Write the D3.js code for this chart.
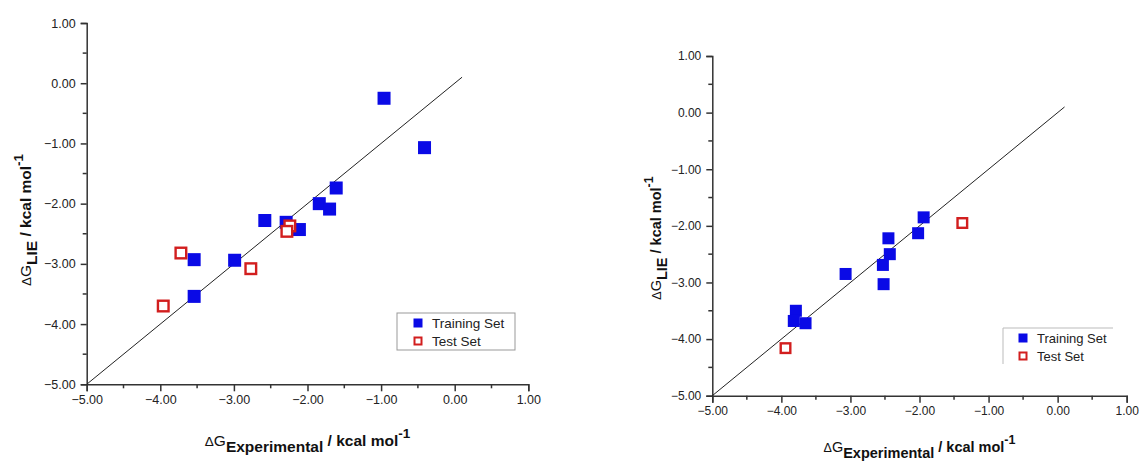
<!DOCTYPE html>
<html>
<head>
<meta charset="utf-8">
<script src="https://cdn.jsdelivr.net/npm/d3@7"></script>
<style>
  body { margin: 0; background: #fff; }
  text { font-family: "Liberation Sans", Arial, sans-serif; }
</style>
</head>
<body>
<svg id="chart" width="1140" height="461"></svg>
<script>
// ticks shared by both panels
var tickValues = [-5, -4, -3, -2, -1, 0, 1];
var minorTicks = [-4.5, -3.5, -2.5, -1.5, -0.5, 0.5];
var lineEnds = [-5, 0.1];

// left panel
var trainA = [
  { x: -0.96, y: -0.25 }, { x: -0.41, y: -1.07 }, { x: -1.61, y: -1.74 },
  { x: -1.84, y: -2.00 }, { x: -1.70, y: -2.09 }, { x: -2.58, y: -2.28 },
  { x: -2.29, y: -2.31 }, { x: -2.11, y: -2.43 }, { x: -3.54, y: -2.93 },
  { x: -2.99, y: -2.94 }, { x: -3.54, y: -3.54 }
];
var testA = [
  { x: -3.72, y: -2.82 }, { x: -2.77, y: -3.08 }, { x: -3.96, y: -3.70 },
  { x: -2.24, y: -2.37 }, { x: -2.28, y: -2.46 }
];

// right panel
var trainB = [
  { x: -1.94, y: -1.85 }, { x: -2.02, y: -2.13 }, { x: -2.45, y: -2.22 },
  { x: -2.43, y: -2.50 }, { x: -2.53, y: -2.69 }, { x: -2.52, y: -3.03 },
  { x: -3.07, y: -2.85 }, { x: -3.79, y: -3.50 }, { x: -3.82, y: -3.68 },
  { x: -3.65, y: -3.72 }
];
var testB = [
  { x: -1.38, y: -1.95 }, { x: -3.94, y: -4.16 }
];

var svg = d3.select("#chart");
var fmt = d3.format(".2f");

function panel(o) {
  var x = d3.scaleLinear().domain([-5, 1]).range([o.x0, o.x1]);
  var y = d3.scaleLinear().domain([-5, 1]).range([o.y0, o.y1]);
  var g = svg.append("g");

  // x axis
  g.append("g").attr("transform", "translate(0," + o.y0 + ")")
    .call(d3.axisBottom(x).tickValues(tickValues).tickFormat(fmt).tickSizeOuter(0).tickSize(7).tickPadding(4));
  g.append("g").selectAll("line").data(minorTicks).join("line")
    .attr("x1", function(d) { return x(d); }).attr("x2", function(d) { return x(d); })
    .attr("y1", o.y0).attr("y2", o.y0 + 4);

  // y axis
  g.append("g").attr("transform", "translate(" + o.x0 + ",0)")
    .call(d3.axisLeft(y).tickValues(tickValues).tickFormat(fmt).tickSizeOuter(0).tickSize(6).tickPadding(5));
  g.append("g").selectAll("line").data(minorTicks).join("line")
    .attr("y1", function(d) { return y(d); }).attr("y2", function(d) { return y(d); })
    .attr("x1", o.x0).attr("x2", o.x0 - 4);

  g.selectAll("path.domain, line").attr("stroke", "#333").attr("stroke-width", 1.5);
  g.selectAll(".tick text").attr("font-size", o.fs).attr("fill", "#222")
    .attr("font-family", "Liberation Sans, Arial, sans-serif");

  // y = x line
  g.append("line")
    .attr("x1", x(lineEnds[0])).attr("y1", y(lineEnds[0]))
    .attr("x2", x(lineEnds[1])).attr("y2", y(lineEnds[1]))
    .attr("stroke", "#222").attr("stroke-width", 1);

  var s = o.ms;
  g.append("g").selectAll("rect").data(o.train).join("rect")
    .attr("x", function(d) { return x(d.x) - s / 2; })
    .attr("y", function(d) { return y(d.y) - s / 2; })
    .attr("width", s).attr("height", s).attr("fill", "#0a0ae6");
  g.append("g").selectAll("rect").data(o.test).join("rect")
    .attr("x", function(d) { return x(d.x) - s / 2 + 1.2; })
    .attr("y", function(d) { return y(d.y) - s / 2 + 1.2; })
    .attr("width", s - 2.4).attr("height", s - 2.4)
    .attr("fill", "#fff").attr("stroke", "#d21e1e").attr("stroke-width", 2.4);

  // axis titles
  var xt = g.append("text").attr("x", (o.x0 + o.x1) / 2).attr("y", o.xtY)
    .attr("text-anchor", "middle").attr("font-size", o.tfs).attr("fill", "#111");
  xt.append("tspan").attr("font-size", o.tfs - 2).text("\u0394");
  xt.append("tspan").text("G");
  xt.append("tspan").attr("font-weight", "bold").attr("dy", 6).text("Experimental");
  xt.append("tspan").attr("font-weight", "bold").attr("dy", -6).text(" / kcal mol");
  xt.append("tspan").attr("font-weight", "bold").attr("dy", -8).attr("font-size", o.tfs - 2).text("-1");

  var yt = g.append("text").attr("transform", "translate(" + o.ytX + "," + o.ytY + ") rotate(-90)")
    .attr("text-anchor", "middle").attr("font-size", o.tfs).attr("fill", "#111").attr("font-weight", "bold");
  yt.append("tspan").attr("font-weight", "normal").attr("font-size", o.tfs - 2).text("\u0394");
  yt.append("tspan").attr("font-weight", "normal").text("G");
  yt.append("tspan").attr("dy", 6).text("LIE");
  yt.append("tspan").attr("dy", -6).text(" / kcal mol");
  yt.append("tspan").attr("dy", -8).attr("font-size", o.tfs - 2).text("-1");

  // legend
  var lg = g.append("g");
  if (o.fullBox) {
    lg.append("rect").attr("x", o.lx).attr("y", o.ly).attr("width", o.lw).attr("height", o.lh)
      .attr("fill", "#fff").attr("stroke", "#999").attr("stroke-width", 1);
  } else {
    lg.append("path").attr("d", "M" + o.lx + "," + (o.ly + o.lh) + "V" + o.ly + "H" + (o.lx + o.lw))
      .attr("fill", "none").attr("stroke", "#bbb").attr("stroke-width", 1);
  }
  var items = [{ label: "Training Set", test: false }, { label: "Test Set", test: true }];
  var it = lg.selectAll("g.item").data(items).join("g")
    .attr("transform", function(d, i) { return "translate(" + o.mx + "," + (o.my + i * 18) + ")"; });
  it.append("rect")
    .attr("x", function(d) { return d.test ? -3.5 : -4.5; })
    .attr("y", function(d) { return d.test ? -3.5 : -4.5; })
    .attr("width", function(d) { return d.test ? 7 : 9; })
    .attr("height", function(d) { return d.test ? 7 : 9; })
    .attr("fill", function(d) { return d.test ? "#fff" : "#0a0ae6"; })
    .attr("stroke", function(d) { return d.test ? "#d21e1e" : "none"; })
    .attr("stroke-width", 2);
  it.append("text").attr("x", 14).attr("y", 5).attr("font-size", o.lfs).attr("fill", "#222")
    .text(function(d) { return d.label; });
}

panel({
  train: trainA, test: testA, ms: 13,
  x0: 86.7, x1: 528.3, y0: 384.3, y1: 23,
  fs: 12.5, tfs: 15.5, xtY: 446, ytX: 31, ytY: 220,
  fullBox: true, lx: 397, ly: 313, lw: 118, lh: 37, mx: 418, my: 323, lfs: 13.5
});

panel({
  train: trainB, test: testB, ms: 12,
  x0: 712.3, x1: 1126.7, y0: 395.7, y1: 56,
  fs: 12, tfs: 14.5, xtY: 452, ytX: 661, ytY: 238,
  fullBox: false, lx: 1003, ly: 328, lw: 110, lh: 36, mx: 1023, my: 338, lfs: 13
});
</script>
</body>
</html>
